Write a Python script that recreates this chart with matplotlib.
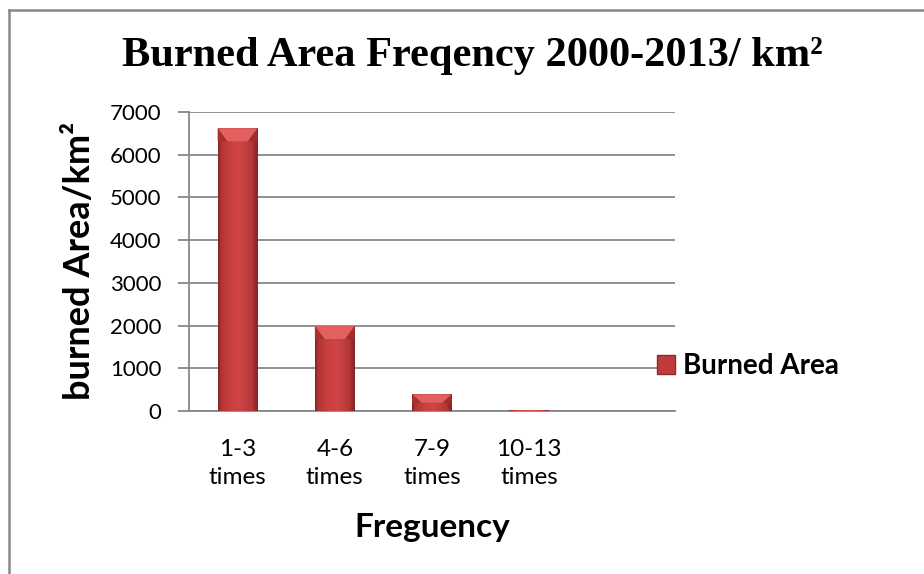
import numpy as np
import matplotlib
matplotlib.use("Agg")
import matplotlib.pyplot as plt
from matplotlib.colors import LinearSegmentedColormap
from matplotlib.patches import Polygon, Patch
from matplotlib.lines import Line2D

# Data
categories = ["1-3\ntimes", "4-6\ntimes", "7-9\ntimes", "10-13\ntimes"]
burned_area = [6620, 1990, 390, 15]
y_ticks = [0, 1000, 2000, 3000, 4000, 5000, 6000, 7000]

W, H = 924, 574
fig = plt.figure(figsize=(W / 100, H / 100), dpi=100)
fig.patch.set_facecolor("white")

ax_l, ax_r, ax_t, ax_b = 189, 675, 112, 411
ax = fig.add_axes([ax_l / W, 1 - ax_b / H, (ax_r - ax_l) / W, (ax_b - ax_t) / H])

grid_col = "#888888"
x = np.arange(len(categories))
bar_w = 0.41
ax.set_xlim(-0.5, 4.5)
ax.set_ylim(0, 7000)

ax.set_yticks(y_ticks)
ax.yaxis.grid(True, color=grid_col, lw=1.3)
ax.set_axisbelow(True)
for s in ["top", "right"]:
    ax.spines[s].set_visible(False)
for s in ["left", "bottom"]:
    ax.spines[s].set_color(grid_col)
    ax.spines[s].set_linewidth(1.3)

ax.tick_params(axis="y", direction="out", length=8, width=1.3, color=grid_col,
               pad=12, labelsize=16)
ax.tick_params(axis="x", length=0, pad=20, labelsize=17.5)
for lab in ax.get_yticklabels():
    lab.set_fontfamily("Lato")

ax.set_xticks(x)
ax.set_xticklabels(categories, fontfamily="Lato", linespacing=1.45)

bars = ax.bar(x, burned_area, width=bar_w, color="#C23B3B", edgecolor="none", zorder=2)

# Horizontal shading across each bar to give a rounded, bevelled look
shade = LinearSegmentedColormap.from_list(
    "bar_shade",
    [(0.0, "#7C2426"), (0.08, "#B23436"), (0.3, "#C93F40"), (0.55, "#CF4546"),
     (0.85, "#B73739"), (1.0, "#7C2426")])
grad = np.linspace(0, 1, 256).reshape(1, -1)

units_per_px_y = 7000 / (ax_b - ax_t)
for rect, val in zip(bars, burned_area):
    x0 = rect.get_x()
    x1 = x0 + rect.get_width()
    im = ax.imshow(grad, cmap=shade, aspect="auto", extent=(x0, x1, 0, val),
                   zorder=3, interpolation="bicubic")
    im.set_clip_path(rect)
    # bevelled top face
    bh = min(13 * units_per_px_y, val * 0.5)
    inset = rect.get_width() * 0.24
    top_face = Polygon([(x0, val), (x1, val), (x1 - inset, val - bh), (x0 + inset, val - bh)],
                       closed=True, facecolor="#E2615F", edgecolor="none", zorder=4)
    ax.add_patch(top_face)
    left_face = Polygon([(x0, val), (x0 + inset, val - bh), (x0, val - bh)],
                        closed=True, facecolor="#A93032", edgecolor="none", zorder=4)
    right_face = Polygon([(x1, val), (x1 - inset, val - bh), (x1, val - bh)],
                         closed=True, facecolor="#A02C2E", edgecolor="none", zorder=4)
    ax.add_patch(left_face)
    ax.add_patch(right_face)

ax.set_xlim(-0.5, 4.5)
ax.set_ylim(0, 7000)

# Axis titles
ax.set_xlabel("Freguency", fontfamily="Lato", fontweight="bold", fontsize=24, va="center")
ax.xaxis.set_label_coords(0.5, (ax_b - 527) / (ax_b - ax_t))
ax.set_ylabel("burned Area/km²", fontfamily="Lato", fontweight="bold", fontsize=26, va="center")
ax.yaxis.set_label_coords((80 - ax_l) / (ax_r - ax_l), (ax_b - 261) / (ax_b - ax_t))

# Chart title
fig.text(472 / W, 1 - 56 / H, "Burned Area Freqency 2000-2013/ km²",
         fontfamily="Liberation Serif", fontweight="bold", fontsize=30.5,
         ha="center", va="center")

# Legend
handle = Patch(facecolor="#C23B3B", edgecolor="#8E2A2B", linewidth=1.0)
ax.legend([handle], ["Burned Area"], loc="center left",
          bbox_to_anchor=(657 / W, 1 - 366 / H), bbox_transform=fig.transFigure,
          frameon=False, borderpad=0, borderaxespad=0,
          handlelength=0.65, handleheight=0.68, handletextpad=0.3,
          prop={"family": "Lato", "weight": "bold", "size": 20})

# Chart area frame
fig.add_artist(Line2D([9 / W, 9 / W], [0, 1 - 10 / H], transform=fig.transFigure,
                      color="#888888", lw=1.8))
fig.add_artist(Line2D([9 / W, 1], [1 - 10 / H, 1 - 10 / H], transform=fig.transFigure,
                      color="#888888", lw=1.8))

fig.savefig("out.png", dpi=100)
